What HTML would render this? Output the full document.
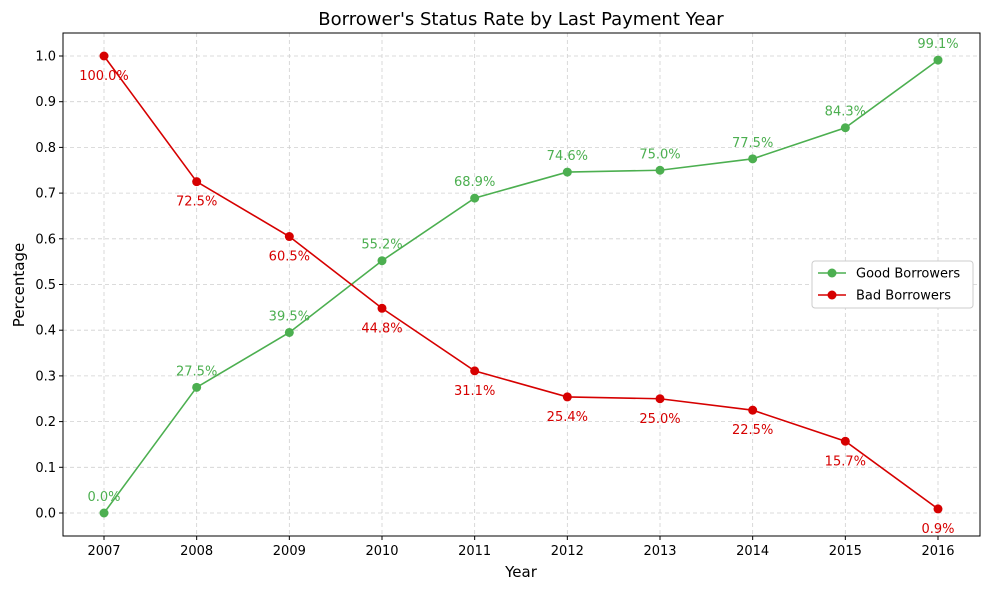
<!DOCTYPE html>
<html><head><meta charset="utf-8"><style>
body{margin:0;background:#fff;font-family:"Liberation Sans","DejaVu Sans",sans-serif;}
</style></head><body>
<svg id="chart" width="989" height="590" xmlns="http://www.w3.org/2000/svg" font-family="DejaVu Sans, Liberation Sans, sans-serif"></svg>
<script>
const years = [2007,2008,2009,2010,2011,2012,2013,2014,2015,2016];
const goodValues = [0.0,0.275,0.395,0.552,0.689,0.746,0.750,0.775,0.843,0.991];
const badValues = [1.0,0.725,0.605,0.448,0.311,0.254,0.250,0.225,0.157,0.009];
const yTicks = [0.0,0.1,0.2,0.3,0.4,0.5,0.6,0.7,0.8,0.9,1.0];

const svg = document.getElementById('chart');
const NS = 'http://www.w3.org/2000/svg';
const L=63,R=980,T=33,B=536;
const x = v => 104 + (v-2007)*(938-104)/9;
const y = v => 513 - v*457;
function mk(tag, attrs, parent){const e=document.createElementNS(NS,tag);for(const k in attrs)e.setAttribute(k,attrs[k]);(parent||svg).appendChild(e);return e;}

// grid
years.forEach(v=>{const g=mk('line',{x1:x(v),x2:x(v),y1:T,y2:B,stroke:'#d0d0d0','stroke-dasharray':'4,3','stroke-width':0.8});

});
yTicks.forEach(v=>{const g=mk('line',{x1:L,x2:R,y1:y(v),y2:y(v),stroke:'#d0d0d0','stroke-dasharray':'4,3','stroke-width':0.8});

});
// frame
const fr=mk('rect',{x:L,y:T,width:R-L,height:B-T,fill:'none',stroke:'#000','stroke-width':1});


// ticks
years.forEach(v=>{mk('line',{x1:x(v),x2:x(v),y1:B,y2:B+4,stroke:'#000'});
const t=mk('text',{x:x(v),y:B+19,'text-anchor':'middle','font-size':13});t.textContent=v;

});
yTicks.forEach(v=>{mk('line',{x1:L-4,x2:L,y1:y(v),y2:y(v),stroke:'#000'});
const t=mk('text',{x:L-7,y:y(v)+4.5,'text-anchor':'end','font-size':13});t.textContent=v.toFixed(1);

});
// titles
let t=mk('text',{x:521,y:25,'text-anchor':'middle','font-size':18});t.textContent="Borrower's Status Rate by Last Payment Year";


t=mk('text',{x:521,y:577,'text-anchor':'middle','font-size':15});t.textContent='Year';


t=mk('text',{x:24,y:285,'text-anchor':'middle','font-size':15,transform:'rotate(-90 24 285)'});t.textContent='Percentage';



function series(vals,color,name,dy){
  const pl=mk('polyline',{points:vals.map((v,i)=>x(years[i])+','+y(v)).join(' '),fill:'none',stroke:color,'stroke-width':1.6});
  
  
  vals.forEach((v,i)=>{
    const c=mk('circle',{cx:x(years[i]),cy:y(v),r:4.5,fill:color});
    
    
    const lb=mk('text',{x:x(years[i]),y:y(v)+dy,'text-anchor':'middle','font-size':13,fill:color});
    lb.textContent=(v*100).toFixed(1)+'%';
    
    
  });
}
series(goodValues,'#4caf50','good-borrowers',-12);
series(badValues,'#d60000','bad-borrowers',24);

// legend
const lg=mk('g',{});


mk('rect',{x:812,y:261,width:161,height:47,rx:3,fill:'#fff',stroke:'#ccc'},lg);
[['Good Borrowers','#4caf50',273],['Bad Borrowers','#d60000',295]].forEach(([n,c,yy])=>{
  const g=mk('g',{},lg);
  
  
  mk('line',{x1:818,x2:846,y1:yy,y2:yy,stroke:c,'stroke-width':1.6},g);
  mk('circle',{cx:832,cy:yy,r:4.5,fill:c},g);
  const tx=mk('text',{x:856,y:yy+4.5,'font-size':13},g);tx.textContent=n;
});
</script>
</body></html>
